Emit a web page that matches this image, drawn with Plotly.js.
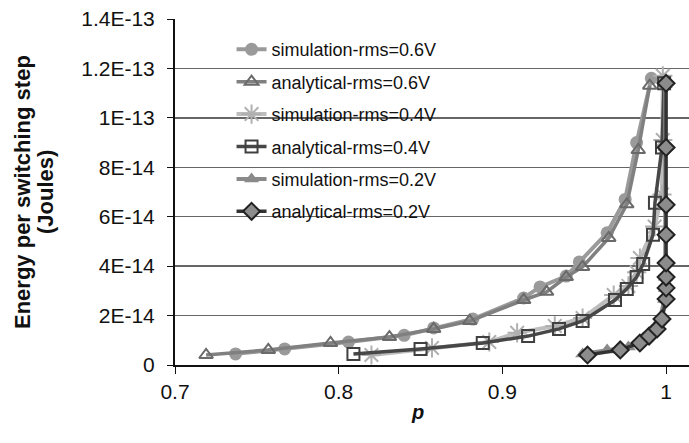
<!DOCTYPE html>
<html>
<head>
<meta charset="utf-8">
<script src="https://cdn.plot.ly/plotly-3.0.1.min.js"></script>
<style>html,body{margin:0;padding:0;background:#fff;}#chart{width:689px;height:443px;}</style>
</head>
<body>
<div id="chart"></div>
<script>
// Data (p, energy in Joules)
var simP06 = [0.737, 0.767, 0.806, 0.840, 0.858, 0.882, 0.913, 0.923, 0.939, 0.947, 0.964, 0.975, 0.982, 0.991];
var simE06 = [4.5e-15, 6.5e-15, 9.3e-15, 1.20e-14, 1.50e-14, 1.86e-14, 2.71e-14, 3.16e-14, 3.60e-14, 4.17e-14, 5.35e-14, 6.70e-14, 9.00e-14, 1.16e-13];

var anaP06 = [0.719, 0.757, 0.795, 0.831, 0.858, 0.880, 0.913, 0.927, 0.939, 0.949, 0.965, 0.976, 0.983, 0.990];
var anaE06 = [4.05e-15, 6.1e-15, 8.9e-15, 1.13e-14, 1.46e-14, 1.78e-14, 2.63e-14, 2.96e-14, 3.56e-14, 3.97e-14, 5.14e-14, 6.50e-14, 8.70e-14, 1.13e-13];

var simP04 = [0.820, 0.857, 0.892, 0.909, 0.932, 0.949, 0.968, 0.977, 0.982, 0.984, 0.993, 0.9975, 0.998, 0.998];
var simE04 = [4.05e-15, 6.9e-15, 9.3e-15, 1.30e-14, 1.58e-14, 1.90e-14, 2.83e-14, 3.20e-14, 3.75e-14, 4.33e-14, 5.60e-14, 6.90e-14, 9.10e-14, 1.17e-13];

var anaP04 = [0.809, 0.850, 0.888, 0.9157, 0.9346, 0.949, 0.9688, 0.976, 0.982, 0.986, 0.992, 0.9932, 0.9975, 0.9988];
var anaE04 = [4.45e-15, 6.5e-15, 8.9e-15, 1.17e-14, 1.46e-14, 1.78e-14, 2.63e-14, 3.08e-14, 3.56e-14, 4.09e-14, 5.27e-14, 6.56e-14, 8.80e-14, 1.14e-13];

var simP02 = [0.949, 0.964, 0.977, 0.986, 0.991, 0.996, 0.999, 0.9995, 0.9995, 0.9995, 0.9995, 0.9995, 0.9995, 0.9995];
var simE02 = [4.45e-15, 6.1e-15, 7.3e-15, 1.09e-14, 1.40e-14, 1.80e-14, 2.65e-14, 3.10e-14, 3.55e-14, 4.10e-14, 5.25e-14, 6.45e-14, 8.80e-14, 1.135e-13];

var anaP02 = [0.952, 0.972, 0.984, 0.9896, 0.9945, 0.9975, 1.0, 1.0, 1.0, 1.0, 1.0, 1.0, 1.0, 1.0];
var anaE02 = [4.05e-15, 6.1e-15, 8.9e-15, 1.17e-14, 1.46e-14, 1.86e-14, 2.67e-14, 3.12e-14, 3.56e-14, 4.13e-14, 5.27e-14, 6.48e-14, 8.80e-14, 1.14e-13];

var seriesNames = ["simulation-rms=0.6V", "analytical-rms=0.6V", "simulation-rms=0.4V",
                   "analytical-rms=0.4V", "simulation-rms=0.2V", "analytical-rms=0.2V"];

var yTickVals = [0, 2e-14, 4e-14, 6e-14, 8e-14, 1e-13, 1.2e-13, 1.4e-13];
var yTickText = ["0", "2E-14", "4E-14", "6E-14", "8E-14", "1E-13", "1.2E-13", "1.4E-13"];
var xTickVals = [0.7, 0.8, 0.9, 1.0];
var xTickText = ["0.7", "0.8", "0.9", "1"];

var yTitleLines = ["Energy per switching step", "(Joules)"];
var xTitleText = "p";

var traces = [
  {x: simP06, y: simE06, name: seriesNames[0], legendgroup: "a",
   line: {color: "#9a9a9a", width: 4},
   marker: {symbol: "circle", size: 13, color: "#9a9a9a"}},
  {x: anaP06, y: anaE06, name: seriesNames[1], legendgroup: "b",
   line: {color: "#808080", width: 3.5},
   marker: {symbol: "triangle-up-open", size: 12, color: "#6a6a6a", line: {width: 2, color: "#6a6a6a"}}},
  {x: simP04, y: simE04, name: seriesNames[2], legendgroup: "c",
   line: {color: "#bdbdbd", width: 4},
   marker: {symbol: "asterisk-open", size: 16, color: "#b0b0b0", line: {width: 2, color: "#b0b0b0"}}},
  {x: anaP04, y: anaE04, name: seriesNames[3], legendgroup: "d",
   line: {color: "#474747", width: 3.5},
   marker: {symbol: "square-open", size: 12, color: "#404040", line: {width: 2, color: "#404040"}}},
  {x: simP02, y: simE02, name: seriesNames[4], legendgroup: "e",
   line: {color: "#8a8a8a", width: 4},
   marker: {symbol: "triangle-up", size: 13, color: "#8a8a8a"}},
  {x: anaP02, y: anaE02, name: seriesNames[5], legendgroup: "f",
   line: {color: "#333333", width: 3.5},
   marker: {symbol: "diamond", size: 13, color: "#8c8c8c", line: {width: 2, color: "#222222"}}}
];
traces.forEach(function(t){ t.type = "scatter"; t.mode = "lines+markers"; });

var layout = {
  width: 689, height: 443,
  margin: {l: 175, r: 0, t: 19, b: 78, pad: 0},
  paper_bgcolor: "#ffffff", plot_bgcolor: "#ffffff",
  font: {family: "Liberation Sans, Arial, sans-serif", color: "#111"},
  showlegend: true,
  legend: {x: 0.11, y: 0.965, xanchor: "left", yanchor: "top",
           bgcolor: "rgba(255,255,255,0)", borderwidth: 0,
           font: {size: 18, color: "#111"}, tracegroupgap: 6, traceorder: "grouped"},
  xaxis: {range: [0.7, 1.014], tickvals: xTickVals, ticktext: xTickText,
          showgrid: false, zeroline: false, showline: true, linecolor: "#111", linewidth: 2,
          ticks: "outside", ticklen: 7, tickwidth: 1, tickcolor: "#111",
          tickfont: {size: 21, color: "#111"}},
  yaxis: {range: [0, 1.4e-13], tickvals: yTickVals, ticktext: yTickText,
          showgrid: true, gridcolor: "#666", gridwidth: 1.5, zeroline: false,
          showline: true, linecolor: "#111", linewidth: 2,
          ticks: "outside", ticklen: 6, tickwidth: 1, tickcolor: "#111",
          ticklabelstandoff: 8,
          tickfont: {size: 21, color: "#111"}},
  annotations: [
    {text: "<b>" + yTitleLines[0] + "</b>", xref: "paper", yref: "paper",
     x: (22 - 175) / 514, y: 0.5, xanchor: "center", yanchor: "middle", textangle: -90,
     showarrow: false, font: {size: 22, color: "#111"}},
    {text: "<b>" + yTitleLines[1] + "</b>", xref: "paper", yref: "paper",
     x: (45 - 175) / 514, y: 0.5, xanchor: "center", yanchor: "middle", textangle: -90,
     showarrow: false, font: {size: 22, color: "#111"}},
    {text: "<b><i>" + xTitleText + "</i></b>", xref: "x", yref: "paper", x: 0.848, y: -0.098,
     xanchor: "center", yanchor: "top", showarrow: false, font: {size: 20, color: "#111"}}
  ]
};

Plotly.newPlot("chart", traces, layout, {displayModeBar: false, staticPlot: true});
</script>
</body>
</html>
